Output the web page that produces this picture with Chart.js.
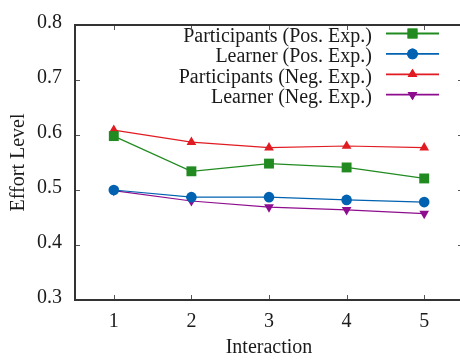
<!DOCTYPE html>
<html>
<head>
<meta charset="utf-8">
<script src="https://cdn.jsdelivr.net/npm/chart.js@4/dist/chart.umd.min.js"></script>
<style>
  html, body { margin: 0; padding: 0; background: #fff; overflow: hidden; }
  #wrap { width: 460px; height: 360px; overflow: hidden; position: relative; }
  #c { position: absolute; left: 0; top: 0; }
</style>
</head>
<body>
<div id="wrap"><canvas id="c" width="470" height="360"></canvas></div>
<script>
// Interaction rounds and mean effort levels per group
const interactions = [1, 2, 3, 4, 5];
const participantsPos = [0.598, 0.534, 0.548, 0.541, 0.521];
const learnerPos      = [0.500, 0.487, 0.487, 0.482, 0.478];
const participantsNeg = [0.609, 0.587, 0.577, 0.580, 0.577];
const learnerNeg      = [0.499, 0.480, 0.469, 0.464, 0.457];
const yTicks = [0.3, 0.4, 0.5, 0.6, 0.7, 0.8];

const FONT = "'Liberation Serif', 'Times New Roman', serif";
Chart.defaults.font.family = FONT;
Chart.defaults.font.size = 20;
Chart.defaults.color = '#1a1a1a';

function series(label, values, color, style, radius, rotation) {
  return {
    label,
    data: interactions.map((x, i) => ({ x, y: values[i] })),
    borderColor: color,
    backgroundColor: color,
    borderWidth: 1.2,
    pointStyle: style,
    pointRadius: radius,
    pointRotation: rotation || 0,
    pointBorderWidth: 0,
    pointHoverRadius: radius,
    tension: 0
  };
}

const datasets = [
  series('Participants (Pos. Exp.)', participantsPos, '#218b21', 'rect', 7),
  series('Learner (Pos. Exp.)', learnerPos, '#0062b0', 'circle', 5.3),
  series('Participants (Neg. Exp.)', participantsNeg, '#e11b22', 'triangle', 5.6),
  series('Learner (Neg. Exp.)', learnerNeg, '#8e0c8e', 'triangle', 5.6, 180)
];

// Frame round the plot area with short inward ticks on every side
const framePlugin = {
  id: 'frame',
  afterDraw(chart) {
    const { ctx, chartArea: a, scales } = chart;
    ctx.save();
    ctx.strokeStyle = '#555';
    ctx.lineWidth = 1;
    const tl = 5;
    interactions.forEach(v => {
      const px = Math.round(scales.x.getPixelForValue(v)) + 0.5;
      ctx.beginPath();
      ctx.moveTo(px, a.bottom); ctx.lineTo(px, a.bottom - tl);
      ctx.moveTo(px, a.top); ctx.lineTo(px, a.top + tl);
      ctx.stroke();
    });
    yTicks.forEach(v => {
      const py = Math.round(scales.y.getPixelForValue(v)) + 0.5;
      ctx.beginPath();
      ctx.moveTo(a.left, py); ctx.lineTo(a.left + tl, py);
      ctx.moveTo(a.right, py); ctx.lineTo(a.right - tl, py);
      ctx.stroke();
    });
    ctx.strokeStyle = '#333';
    ctx.lineWidth = 2;
    ctx.strokeRect(a.left, a.top, a.right - a.left, a.bottom - a.top);
    ctx.restore();
  }
};

// Key in the upper right: right-aligned labels with a line sample and marker
const keyPlugin = {
  id: 'key',
  afterDatasetsDraw(chart) {
    const ctx = chart.ctx;
    const textRight = 372, lineL = 386, lineR = 439, markX = 412.5;
    ctx.save();
    ctx.font = '20px ' + FONT;
    ctx.textAlign = 'right';
    ctx.textBaseline = 'alphabetic';
    chart.data.datasets.forEach((ds, i) => {
      const y = 33.5 + i * 20.4;
      ctx.fillStyle = '#1a1a1a';
      ctx.fillText(ds.label, textRight, y + 8.5);
      ctx.strokeStyle = ds.borderColor;
      ctx.lineWidth = 1.8;
      ctx.beginPath();
      ctx.moveTo(lineL, y); ctx.lineTo(lineR, y);
      ctx.stroke();
      ctx.fillStyle = ds.backgroundColor;
      Chart.helpers.drawPoint(ctx, {
        pointStyle: ds.pointStyle,
        radius: ds.pointRadius,
        rotation: ds.pointRotation,
        borderWidth: 0
      }, markX, y);
      ctx.fill();
    });
    ctx.restore();
  }
};

new Chart(document.getElementById('c'), {
  type: 'line',
  data: { datasets },
  options: {
    responsive: false,
    animation: false,
    events: [],
    layout: { padding: { left: 0, top: 19, right: 6, bottom: 0 } },
    plugins: { legend: { display: false }, tooltip: { enabled: false } },
    scales: {
      x: {
        type: 'linear',
        min: 0.5,
        max: 5.5,
        afterBuildTicks(scale) { scale.ticks = interactions.map(v => ({ value: v })); },
        afterFit(scale) { scale.height = 60; },
        grid: { display: false, drawTicks: false },
        border: { display: false },
        ticks: {
          padding: 10,
          font: { family: FONT, size: 20 },
          maxRotation: 0,
          callback: v => String(v)
        },
        title: {
          display: true,
          text: 'Interaction',
          font: { family: FONT, size: 20 },
          padding: { top: 0, bottom: 0 }
        }
      },
      y: {
        min: 0.3,
        max: 0.8,
        afterBuildTicks(scale) { scale.ticks = yTicks.map(v => ({ value: v })); },
        afterFit(scale) { scale.width = 75; },
        grid: { display: false, drawTicks: false },
        border: { display: false },
        ticks: {
          padding: 13,
          labelOffset: -2,
          font: { family: FONT, size: 20 },
          callback: v => v.toFixed(1)
        },
        title: {
          display: true,
          text: 'Effort Level',
          font: { family: FONT, size: 20 },
          padding: { top: 7, bottom: 0 }
        }
      }
    }
  },
  plugins: [framePlugin, keyPlugin]
});
</script>
</body>
</html>
